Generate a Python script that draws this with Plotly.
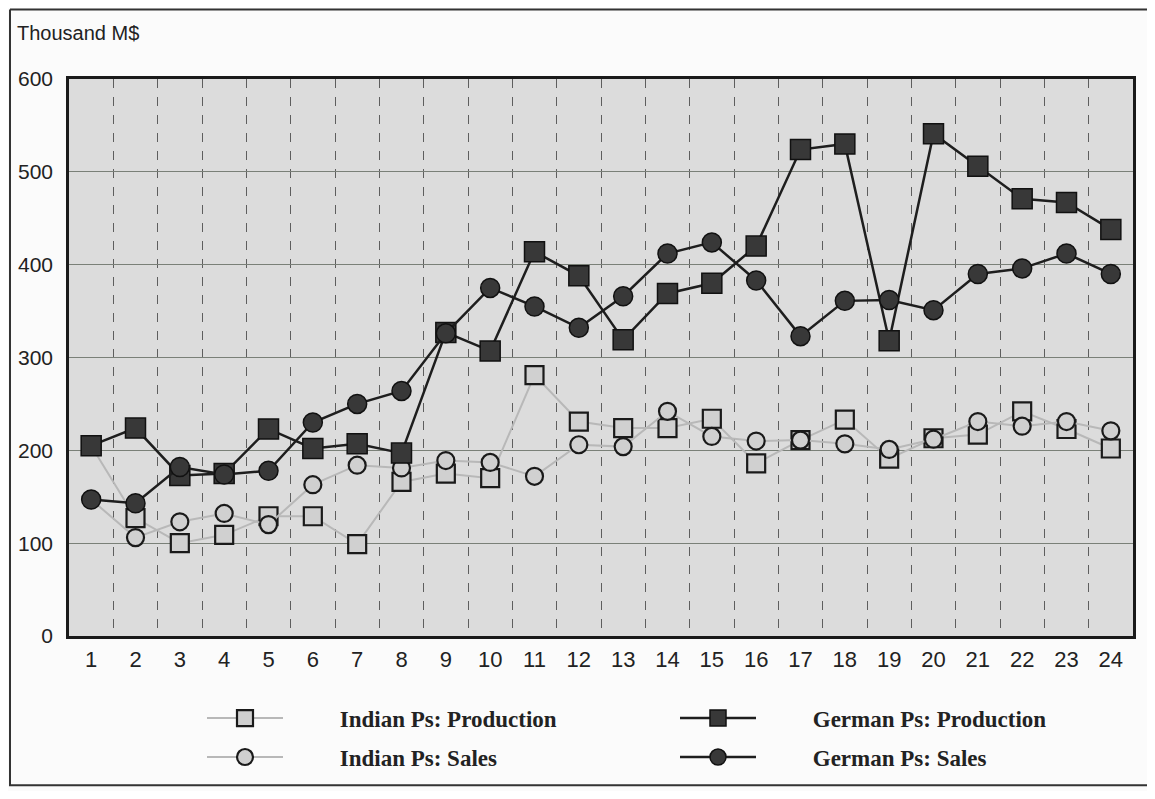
import numpy as np
import plotly.graph_objects as go

periods = list(range(1, 25))
tick_labels = [str(p) for p in periods]
y_ticks = [0, 100, 200, 300, 400, 500, 600]

indian_production = [205, 127, 100, 109, 129, 129, 99, 166, 175, 170, 281, 231,
                     224, 224, 234, 186, 211, 233, 191, 213, 217, 242, 223, 202]
indian_sales = [147, 106, 123, 132, 120, 163, 184, 181, 189, 187, 172, 206,
                204, 242, 215, 210, 211, 207, 201, 212, 231, 226, 231, 221]
german_production = [205, 224, 173, 175, 223, 202, 207, 197, 327, 307, 414, 388,
                     319, 369, 380, 420, 524, 530, 318, 541, 506, 471, 467, 438]
german_sales = [147, 143, 182, 174, 178, 230, 250, 264, 326, 375, 355, 332,
                366, 412, 424, 383, 323, 361, 362, 351, 390, 396, 412, 390]

boundaries = list(np.arange(1.5, 24.5, 1.0))

# page offset caused by the default body margin of the html page
OFF = 8
W, H = 1139, 783
# desired plot area in page pixels: x 69..1133, y 79..639
L, T = 69 - OFF, 79 - OFF
R = (OFF + W) - 1133
B = (OFF + H) - 639
PW, PH = W - L - R, H - T - B


def px_x(x):
    # page pixel -> paper x
    return (x - OFF - L) / PW


def px_y(y):
    # page pixel -> paper y
    return (OFF + H - B - y) / PH


fig = go.Figure()

light_line = dict(color="#b8b8b8", width=2)
dark_line = dict(color="#1e1e1e", width=2.5)
pad = "\u00a0" * 9

fig.add_trace(go.Scatter(
    x=periods, y=indian_production, mode="lines+markers",
    name=pad + "Indian Ps: Production",
    line=light_line,
    marker=dict(symbol="square", size=18, color="#d0d0d0",
                line=dict(color="#1a1a1a", width=2.2)),
    legend="legend", legendgroup="a",
))
fig.add_trace(go.Scatter(
    x=periods, y=indian_sales, mode="lines+markers",
    name=pad + "Indian Ps: Sales",
    line=light_line,
    marker=dict(symbol="circle", size=17, color="#d0d0d0",
                line=dict(color="#1a1a1a", width=2.2)),
    legend="legend", legendgroup="b",
))
fig.add_trace(go.Scatter(
    x=periods, y=german_production, mode="lines+markers",
    name=pad + "German Ps: Production",
    line=dark_line,
    marker=dict(symbol="square", size=20, color="#383838",
                line=dict(color="#111111", width=1.5)),
    legend="legend2", legendgroup="c",
))
fig.add_trace(go.Scatter(
    x=periods, y=german_sales, mode="lines+markers",
    name=pad + "German Ps: Sales",
    line=dark_line,
    marker=dict(symbol="circle", size=19, color="#383838",
                line=dict(color="#111111", width=1.5)),
    legend="legend2", legendgroup="d",
))

legend_font = dict(family="Liberation Serif, Times New Roman, serif", size=23,
                   color="#222222", weight="bold")
legend_common = dict(
    orientation="v", bgcolor="rgba(0,0,0,0)", borderwidth=0,
    font=legend_font, itemwidth=76, tracegroupgap=6,
    xanchor="left", yanchor="top", itemclick=False, itemdoubleclick=False,
)

fig.update_layout(
    width=W, height=H,
    margin=dict(l=L, r=R, t=T, b=B),
    paper_bgcolor="#fbfbfb",
    plot_bgcolor="#dcdcdc",
    showlegend=True,
    legend=dict(x=px_x(202), y=px_y(700), **legend_common),
    legend2=dict(x=px_x(675), y=px_y(700), **legend_common),
    xaxis=dict(
        range=[0.5, 24.5], tickmode="array", tickvals=periods, ticktext=tick_labels,
        showgrid=False, zeroline=False, automargin=False,
        showline=True, linecolor="#1a1a1a", linewidth=2.5, mirror=True,
        ticks="", tickfont=dict(family="Liberation Sans, Arial, sans-serif", size=22, color="#222222"),
        ticklabelstandoff=2,
        minor=dict(tickmode="array", tickvals=boundaries, showgrid=True,
                   gridcolor="#5e5e5e", gridwidth=1, griddash="dash", ticks=""),
        fixedrange=True,
    ),
    yaxis=dict(
        range=[0, 600], tickmode="array", tickvals=y_ticks,
        showgrid=True, gridcolor="#7a8078", gridwidth=1, zeroline=False, automargin=False,
        showline=True, linecolor="#1a1a1a", linewidth=2.5, mirror=True,
        ticks="outside", ticklen=9, tickcolor="rgba(0,0,0,0)",
        tickfont=dict(family="Liberation Sans, Arial, sans-serif", size=21, color="#222222"),
        fixedrange=True,
    ),
    annotations=[dict(
        text="Thousand M$", xref="paper", yref="paper",
        x=px_x(15), y=px_y(33), xanchor="left", yanchor="middle", showarrow=False,
        font=dict(family="Liberation Sans Narrow, Liberation Sans, Arial, sans-serif",
                  size=20, color="#222222"),
    )],
    shapes=[dict(
        type="path", xref="paper", yref="paper",
        path="M {a},{b} L {c},{b} M {a},{b} L {a},{d} L {c},{d}".format(
            a=px_x(10), b=px_y(9), c=px_x(1150), d=px_y(789)),
        line=dict(color="#333333", width=2), layer="below",
    )],
)

fig.write_html("out.html")
